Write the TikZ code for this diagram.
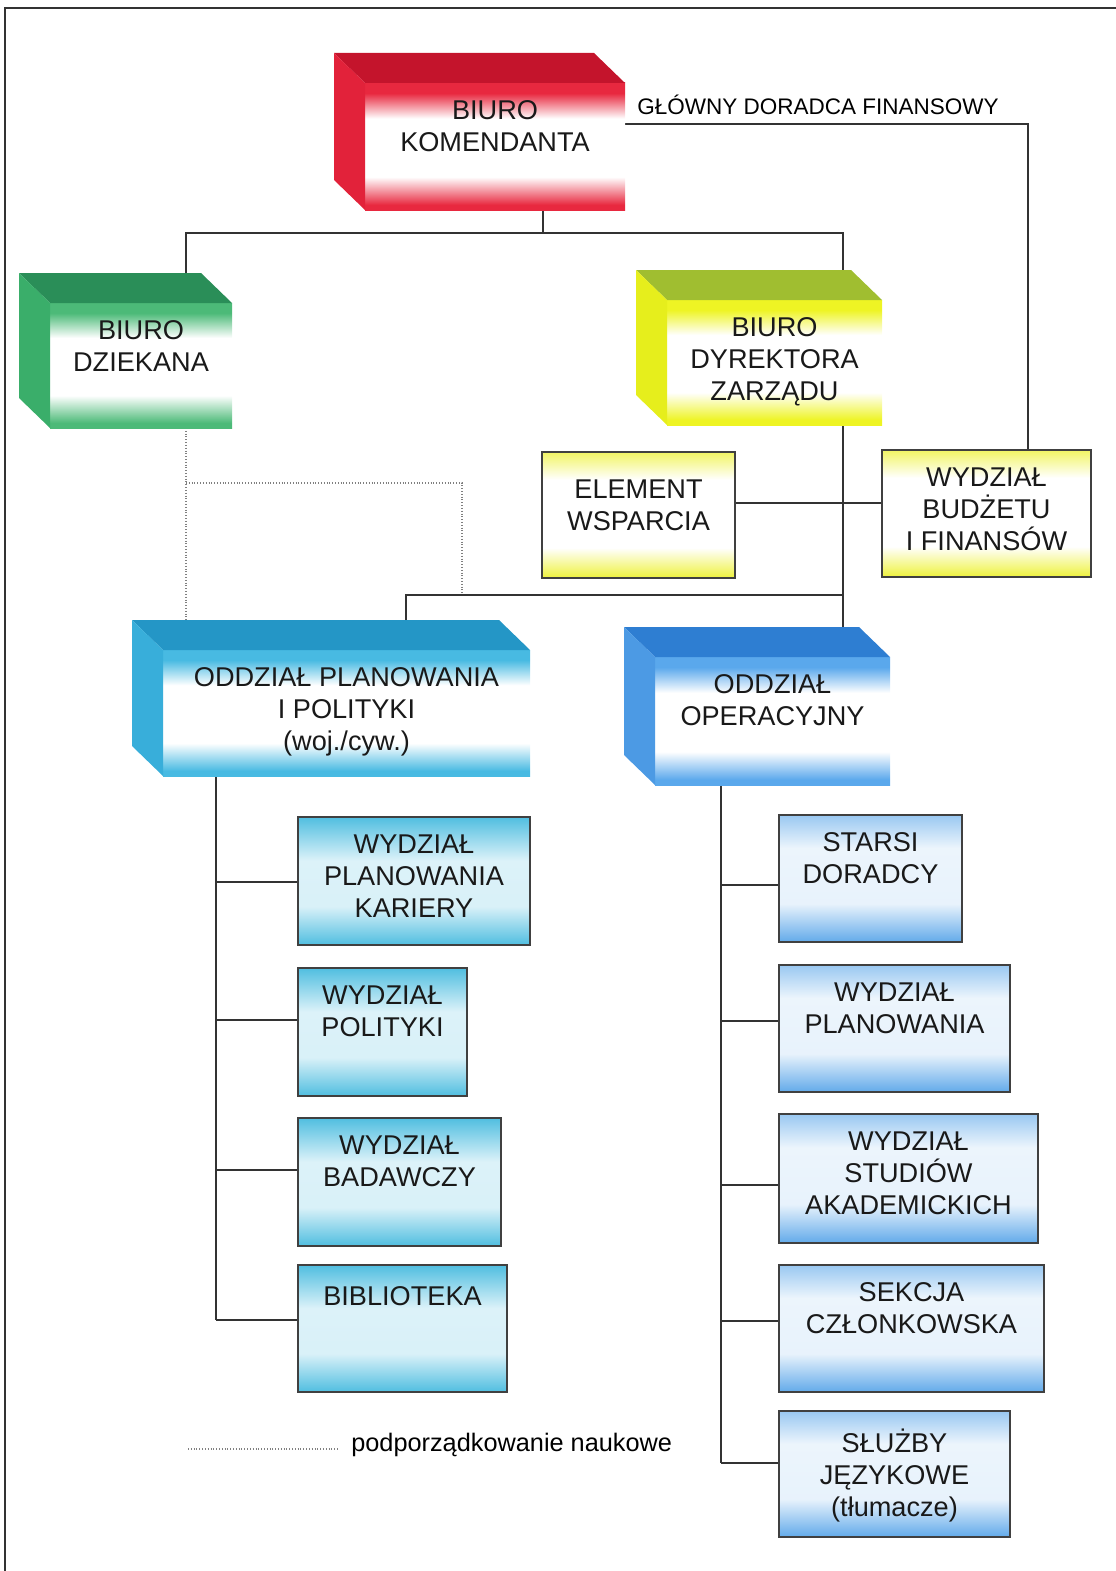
\documentclass[tikz,border=0pt]{standalone}
\usepackage{fontspec}
\setmainfont{Liberation Sans}
\usetikzlibrary{calc}

\pgfdeclarelayer{bg}
\pgfsetlayers{bg,main}

% colours of the boxes (top face, side face, front face)
\definecolor{topR}{HTML}{C4142C}\definecolor{sideR}{HTML}{E2223A}\definecolor{faceR}{HTML}{E8283F}
\definecolor{topG}{HTML}{2A8E58}\definecolor{sideG}{HTML}{3AAE6A}\definecolor{faceG}{HTML}{4CBA78}
\definecolor{topY}{HTML}{A0BE30}\definecolor{sideY}{HTML}{E6EE1C}\definecolor{faceY}{HTML}{EEF424}
\definecolor{topC}{HTML}{2496C6}\definecolor{sideC}{HTML}{38AEDA}\definecolor{faceC}{HTML}{48BAE2}
\definecolor{topB}{HTML}{2E7ED2}\definecolor{sideB}{HTML}{4C9AE4}\definecolor{faceB}{HTML}{5AA8EC}
\definecolor{flatY}{HTML}{EEF23C}
\definecolor{flatC}{HTML}{50BEE0}
\definecolor{flatB}{HTML}{62AAEA}
\definecolor{linegray}{HTML}{333333}

% front faces: colour at top and bottom, white in the middle
\pgfdeclareverticalshading{shR}{100bp}{color(0bp)=(faceR); color(27bp)=(faceR); color(38bp)=(white); color(61bp)=(white); color(71bp)=(faceR); color(100bp)=(faceR)}
\pgfdeclareverticalshading{shG}{100bp}{color(0bp)=(faceG); color(27bp)=(faceG); color(38bp)=(white); color(61bp)=(white); color(71bp)=(faceG); color(100bp)=(faceG)}
\pgfdeclareverticalshading{shY}{100bp}{color(0bp)=(faceY); color(27bp)=(faceY); color(38bp)=(white); color(61bp)=(white); color(71bp)=(faceY); color(100bp)=(faceY)}
\pgfdeclareverticalshading{shC}{100bp}{color(0bp)=(faceC); color(27bp)=(faceC); color(38bp)=(white); color(61bp)=(white); color(71bp)=(faceC); color(100bp)=(faceC)}
\pgfdeclareverticalshading{shB}{100bp}{color(0bp)=(faceB); color(27bp)=(faceB); color(38bp)=(white); color(61bp)=(white); color(71bp)=(faceB); color(100bp)=(faceB)}
\pgfdeclareverticalshading{flY}{100bp}{color(0bp)=(flatY); color(25bp)=(flatY); color(37bp)=(white); color(64bp)=(white); color(75bp)=(flatY!80); color(100bp)=(flatY!80)}
\pgfdeclareverticalshading{flC}{100bp}{color(0bp)=(flatC); color(25bp)=(flatC); color(40bp)=(flatC!22); color(58bp)=(flatC!20); color(75bp)=(flatC); color(100bp)=(flatC)}
\pgfdeclareverticalshading{flB}{100bp}{color(0bp)=(flatB); color(25bp)=(flatB); color(40bp)=(flatB!15); color(62bp)=(flatB!12); color(75bp)=(flatB!65); color(100bp)=(flatB!65)}

\newcommand\boxfont{\fontsize{19.3}{22.7}\selectfont}
\newcommand\notefont{\fontsize{16}{19}\selectfont}
\newcommand\legfont{\fontsize{18}{21}\selectfont}

\tikzset{
  face/.style={shade, inner sep=0pt, outer sep=0pt},
  flat/.style={shade, draw=black!75, line width=0.9pt, inner sep=0pt, outer sep=0pt},
  wh/.style 2 args={minimum width=#1*0.025cm, minimum height=#2*0.025cm},
  tx/.style={anchor=north, yshift=-0.44cm, inner sep=0pt, align=center, font=\boxfont,
    text=black!90, execute at begin node=\strut},
  conn/.style={draw=linegray, line width=0.9pt},
  sci/.style={draw=gray, line width=0.9pt, dash pattern=on 0.7pt off 1.3pt},
}

\begin{document}
\begin{tikzpicture}[x=0.025cm, y=-0.025cm]
\useasboundingbox (0,0) rectangle (1116,1571);

% frame of the scan
\draw[line width=1.2pt, black!80] (5,1571) -- (5,8) -- (1116,8);

% front faces of the 3d boxes
\node[face, wh={260}{127}, shading=shR, label={[tx]north:BIURO\\KOMENDANTA}] (kom) at (495,146.5) {};
\node[face, wh={182}{125}, shading=shG, label={[tx]north:BIURO\\DZIEKANA}] (dzi) at (141,365.5) {};
\node[face, wh={215}{125}, shading=shY, label={[tx]north:BIURO\\DYREKTORA\\ZARZĄDU}] (dyr) at (774.5,362.5) {};
\node[face, wh={367}{126}, shading=shC, label={[tx]north:ODDZIAŁ PLANOWANIA\\I POLITYKI\\(woj./cyw.)}] (opl) at (346.5,713) {};
\node[face, wh={235}{128}, shading=shB, label={[tx]north:ODDZIAŁ\\OPERACYJNY}] (oop) at (772.5,721) {};

% top and side faces
\foreach \n/\c in {kom/R, dzi/G, dyr/Y, opl/C, oop/B} {
  \fill[top\c] (\n.north west) -- ++(-31,-30) -- ($(\n.north east)+(-31,-30)$) -- (\n.north east) -- cycle;
  \fill[side\c] (\n.north west) -- ++(-31,-30) -- ($(\n.south west)+(-31,-30)$) -- (\n.south west) -- cycle;
}

% flat boxes
\node[flat, wh={193}{126}, shading=flY, label={[tx, yshift=-0.25cm]north:ELEMENT\\WSPARCIA}] (ews) at (638.5,515) {};
\node[flat, wh={209}{127}, shading=flY, label={[tx]north:WYDZIAŁ\\BUDŻETU\\I FINANSÓW}] (bud) at (986.5,513.5) {};

\node[flat, wh={232}{128}, shading=flC, label={[tx]north:WYDZIAŁ\\PLANOWANIA\\KARIERY}] (kar) at (414,881) {};
\node[flat, wh={169}{128}, shading=flC, label={[tx]north:WYDZIAŁ\\POLITYKI}] (pol) at (382.5,1032) {};
\node[flat, wh={203}{128}, shading=flC, label={[tx]north:WYDZIAŁ\\BADAWCZY}] (bad) at (399.5,1182) {};
\node[flat, wh={209}{127}, shading=flC, label={[tx]north:BIBLIOTEKA}] (bib) at (402.5,1328.5) {};

\node[flat, wh={183}{127}, shading=flB, label={[tx]north:STARSI\\DORADCY}] (sta) at (870.5,878.5) {};
\node[flat, wh={231}{127}, shading=flB, label={[tx]north:WYDZIAŁ\\PLANOWANIA}] (wpl) at (894.5,1028.5) {};
\node[flat, wh={259}{129}, shading=flB, label={[tx]north:WYDZIAŁ\\STUDIÓW\\AKADEMICKICH}] (stu) at (908.5,1178.5) {};
\node[flat, wh={265}{127}, shading=flB, label={[tx]north:SEKCJA\\CZŁONKOWSKA}] (sek) at (911.5,1328.5) {};
\node[flat, wh={231}{126}, shading=flB, label={[tx]north:SŁUŻBY\\JĘZYKOWE\\(tłumacze)}] (slu) at (894.5,1474) {};

\node[anchor=base west, font=\notefont, inner sep=0pt] (gdf) at (637,114) {GŁÓWNY DORADCA FINANSOWY};

% connectors behind the boxes
\begin{pgfonlayer}{bg}
  \coordinate (kd) at (543,233);
  \coordinate (jl) at (186,233);
  \coordinate (jr) at (843,233);
  \draw[conn] (kd |- kom.south) -- (kd);
  \draw[conn] (jl |- dzi.north) -- (jl) -- (jr) -- (jr |- oop.north);

  \coordinate (gd) at (1028,124);
  \draw[conn] (kom.east |- gd) -- (gd) -- (gd |- bud.north);

  \coordinate (hb) at (843,503);
  \draw[conn] (ews.east |- hb) -- (bud.west |- hb);

  \coordinate (pj) at (406,595);
  \draw[conn] (jr |- pj) -- (pj) -- (pj |- opl.north);

  % scientific subordination
  \coordinate (dj) at (186,483);
  \coordinate (dk) at (462,483);
  \draw[sci] (dj |- dzi.south) -- (dj |- opl.north);
  \draw[sci] (dj) -- (dk) -- (dk |- pj);

  % left branch
  \coordinate (lt) at (216,1320);
  \draw[conn] (lt |- opl.south) -- (lt);
  \foreach \n/\y in {kar/882, pol/1020, bad/1170, bib/1320}
    \draw[conn] (216,\y) -- (\n.west |- 0,\y);

  % right branch
  \coordinate (rt) at (721,1463);
  \draw[conn] (rt |- oop.south) -- (rt);
  \foreach \n/\y in {sta/885, wpl/1021, stu/1185, sek/1321, slu/1463}
    \draw[conn] (721,\y) -- (\n.west |- 0,\y);
\end{pgfonlayer}

% legend
\coordinate (la) at (188,1449);
\coordinate (lb) at (338,1449);
\draw[sci] (la) -- (lb);
\node[anchor=base west, font=\legfont, inner sep=0pt] (leg) at (351,1451) {podporządkowanie naukowe};

\end{tikzpicture}
\end{document}
